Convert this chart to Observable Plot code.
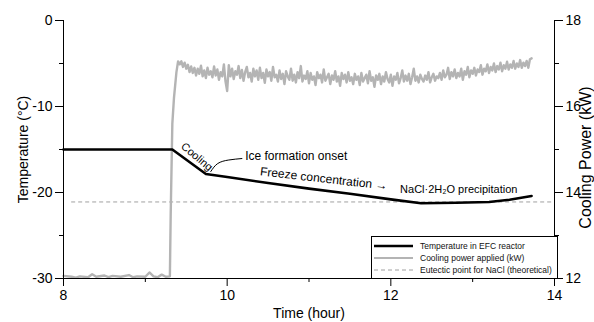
<!DOCTYPE html>
<html>
<head>
<meta charset="utf-8">
<script src="https://cdn.jsdelivr.net/npm/d3@7"></script>
<script src="https://cdn.jsdelivr.net/npm/@observablehq/plot@0.6"></script>
<style>
  html, body { margin: 0; padding: 0; background: #fff; overflow: hidden; }
  #chart { width: 594px; height: 322px; }
</style>
</head>
<body>
<div id="chart"></div>
<script>
// ---- Data ----
const tempTime = [8.0, 9.33, 9.74, 10.0, 10.5, 11.0, 11.5, 12.0, 12.37, 12.8, 13.2, 13.45, 13.72];
const tempValue = [-15.0, -15.0, -17.85, -18.2, -18.9, -19.55, -20.15, -20.8, -21.25, -21.2, -21.1, -20.85, -20.4];

// Cooling power, start-up part (irregular times)
const powerHeadTime = [8.0, 8.1, 8.15, 8.2, 8.3, 8.35, 8.4, 8.5, 8.55, 8.6, 8.7, 8.8, 8.85, 8.9, 9.0, 9.05, 9.1, 9.15, 9.2, 9.25, 9.3, 9.31, 9.33, 9.35, 9.38, 9.40];
const powerHead = [12.06, 12.04, 12.02, 12.05, 12.03, 12.10, 12.04, 12.07, 12.03, 12.06, 12.04, 12.08, 12.03, 12.05, 12.04, 12.14, 12.05, 12.03, 12.09, 12.04, 12.05, 13.5, 15.6, 16.2, 16.8, 17.05];

// Cooling power, logged every 0.02 h from 9.42 h
const powerLogStart = 9.42;
const powerLogStep = 0.02;
const powerLog = [
  16.98, 17.05, 16.92, 17.02, 16.88, 16.97, 16.80, 16.93, 16.78, 16.90,
  16.72, 16.88, 16.76, 16.95, 16.70, 16.84, 16.66, 16.90, 16.74, 16.82,
  16.68, 16.93, 16.72, 16.86, 16.62, 16.80, 16.70, 16.98, 16.58, 16.36,
  16.96, 16.70, 16.88, 16.64, 16.82, 16.74, 16.94, 16.66, 16.85, 16.60,
  16.80, 16.92, 16.68, 16.78, 16.58, 16.88, 16.70, 16.84, 16.62, 16.90,
  16.66, 16.78, 16.55, 16.86, 16.70, 16.80, 16.60, 16.92, 16.68, 16.74,
  16.58, 16.84, 16.64, 16.76, 16.52, 16.82, 16.70, 16.62, 16.88, 16.60,
  16.74, 16.56, 16.80, 16.66, 16.94, 16.58, 16.72, 16.64, 16.82, 16.54,
  16.78, 16.62, 16.70, 16.50, 16.80, 16.66, 16.74, 16.56, 16.86, 16.60,
  16.68, 16.76, 16.52, 16.72, 16.62, 16.82, 16.58, 16.70, 16.48, 16.78,
  16.64, 16.74, 16.56, 16.80, 16.60, 16.68, 16.52, 16.76, 16.62, 16.70,
  16.50, 16.78, 16.58, 16.66, 16.74, 16.54, 16.82, 16.60, 16.68, 16.46,
  16.72, 16.62, 16.76, 16.52, 16.70, 16.58, 16.80, 16.64, 16.56, 16.74,
  16.48, 16.70, 16.62, 16.78, 16.54, 16.66, 16.84, 16.58, 16.72, 16.60,
  16.76, 16.52, 16.68, 16.88, 16.60, 16.70, 16.56, 16.74, 16.64, 16.58,
  16.72, 16.62, 16.80, 16.56, 16.68, 16.76, 16.60, 16.70, 16.66, 16.78,
  16.62, 16.84, 16.68, 16.74, 16.90, 16.64, 16.80, 16.70, 16.86, 16.66,
  16.78, 16.70, 16.88, 16.62, 16.82, 16.74, 16.92, 16.68, 16.84, 16.76,
  16.90, 16.72, 16.86, 16.80, 16.96, 16.74, 16.88, 16.82, 16.98, 16.78,
  16.92, 16.84, 17.00, 16.80, 16.94, 16.86, 17.02, 16.82, 16.96, 16.88,
  17.04, 16.86, 16.98, 16.90, 17.06, 16.88, 17.00, 16.92, 17.08, 16.90,
  17.02, 16.94, 17.06, 16.90, 17.10, 17.12
];

const eutectic = -21.1;
const eutecticStart = 8.1;

const xMajor = [8, 10, 12, 14];
const xMinor = [9, 11, 13];
const yMajor = [-30, -20, -10, 0];
const yMinor = [-25, -15, -5];
const powerMajor = [12, 14, 16, 18];
const powerMinor = [13, 15, 17];
const tempDomain = [-30, 0];
const powerDomain = [12, 18];

const legendLabels = ["Temperature in EFC reactor", "Cooling power applied (kW)", "Eutectic point for NaCl (theoretical)"];

// ---- Build tables ----
const toTemp = p => tempDomain[0] + (p - powerDomain[0]) / (powerDomain[1] - powerDomain[0]) * (tempDomain[1] - tempDomain[0]);
const toPower = t => powerDomain[0] + (t - tempDomain[0]) / (tempDomain[1] - tempDomain[0]) * (powerDomain[1] - powerDomain[0]);

const tempData = tempTime.map((t, i) => ({t, v: tempValue[i]}));
const powerData = powerHeadTime.map((t, i) => ({t, p: powerHead[i]}))
  .concat(powerLog.map((p, i) => ({t: powerLogStart + i * powerLogStep, p})));

const connector = [
  {t: 9.80, v: -17.56}, {t: 9.885, v: -16.63}, {t: 10.02, v: -16.22}, {t: 10.18, v: -16.05}
];

const FONT = "'Liberation Sans', Arial, Helvetica, sans-serif";
const BLACK = "black", GRAY = "#b4b4b4", DASHGRAY = "#a0a0a0";

const plot = Plot.plot({
  width: 594,
  height: 322,
  marginLeft: 63,
  marginRight: 40,
  marginTop: 20,
  marginBottom: 44,
  style: {fontFamily: FONT, fontSize: "14px", color: "black", background: "white"},
  x: {domain: [8, 14], axis: null},
  y: {domain: tempDomain, axis: null},
  marks: [
    Plot.ruleY([eutectic], {x1: eutecticStart, x2: 14, stroke: DASHGRAY, strokeWidth: 1, strokeDasharray: "4,3"}),
    Plot.line(powerData, {x: "t", y: d => toTemp(d.p), stroke: GRAY, strokeWidth: 2.4, strokeLinejoin: "round"}),
    Plot.line(tempData, {x: "t", y: "v", stroke: BLACK, strokeWidth: 2.6}),
    Plot.line(connector, {x: "t", y: "v", curve: "natural", stroke: BLACK, strokeWidth: 1}),
    Plot.ruleX([8], {stroke: "black", strokeWidth: 1}),
    Plot.ruleX([14], {stroke: "black", strokeWidth: 1}),
    Plot.ruleY([-30], {stroke: "black", strokeWidth: 1}),
    Plot.axisX(xMajor, {tickSize: 8, tickPadding: 4, label: null, tickFormat: d => String(d)}),
    Plot.axisX(xMinor, {tickSize: 4, label: null, tickFormat: () => ""}),
    Plot.axisY(yMajor, {anchor: "left", tickSize: 8, tickPadding: 3, label: null, tickFormat: d => String(d)}),
    Plot.axisY(yMinor, {anchor: "left", tickSize: 4, label: null, tickFormat: () => ""}),
    Plot.axisY(powerMajor.map(toTemp), {anchor: "right", tickSize: 8, tickPadding: 3, label: null, tickFormat: d => String(Math.round(toPower(d)))}),
    Plot.axisY(powerMinor.map(toTemp), {anchor: "right", tickSize: 4, label: null, tickFormat: () => ""}),
    Plot.text(["Time (hour)"], {frameAnchor: "bottom", dy: 35, lineAnchor: "middle", fontSize: 14}),
    Plot.text(["Temperature (°C)"], {frameAnchor: "left", dx: -36, rotate: -90, lineAnchor: "bottom", textAnchor: "middle", fontSize: 14}),
    Plot.text(["Cooling Power (kW)"], {frameAnchor: "right", dx: 36, dy: 8, rotate: -90, lineAnchor: "bottom", textAnchor: "middle", fontSize: 16}),
    Plot.text(["Cooling"], {x: 9.63, y: -15.85, rotate: 40, fontSize: 11, textAnchor: "middle", lineAnchor: "middle"}),
    Plot.text(["Ice formation onset"], {x: 10.22, y: -15.8, fontSize: 12, textAnchor: "start", lineAnchor: "middle"}),
    Plot.text(["Freeze concentration \u2192"], {x: 11.18, y: -18.4, rotate: 6.5, fontSize: 12, textAnchor: "middle", lineAnchor: "middle"}),
    Plot.text(["NaCl\u00b72H\u2082O precipitation"], {x: 12.83, y: -19.65, fontSize: 11, textAnchor: "middle", lineAnchor: "middle"})
  ]
});

document.getElementById("chart").appendChild(plot);

// ---- Legend (inside the plot, bottom right) ----
const legendStyles = [
  {stroke: BLACK, width: 2.6, dash: null},
  {stroke: GRAY, width: 2.2, dash: null},
  {stroke: DASHGRAY, width: 1, dash: "4,3"}
];
const svg = d3.select(plot);
const lg = svg.append("g").attr("font-family", FONT).attr("font-size", 8.5).attr("text-anchor", "start");
const bx = 371, by = 236, bw = 186, bh = 42;
lg.append("rect").attr("x", bx + 0.5).attr("y", by + 0.5).attr("width", bw).attr("height", bh)
  .attr("fill", "white").attr("stroke", "black").attr("stroke-width", 1);
legendLabels.forEach((label, i) => {
  const s = legendStyles[i];
  const yy = by + 10 + i * 12;
  lg.append("line").attr("x1", bx + 3).attr("x2", bx + 42).attr("y1", yy).attr("y2", yy)
    .attr("stroke", s.stroke).attr("stroke-width", s.width).attr("stroke-dasharray", s.dash);
  lg.append("text").attr("x", bx + 49).attr("y", yy).attr("dy", "0.35em")
    .attr("text-anchor", "start").attr("fill", "#111").text(label);
});
</script>
</body>
</html>
